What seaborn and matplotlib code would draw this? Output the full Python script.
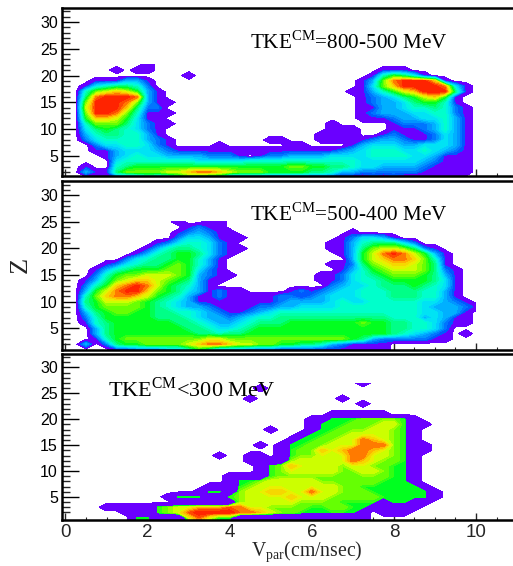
import matplotlib
matplotlib.use('Agg')
import matplotlib.pyplot as plt
import numpy as np
import seaborn as sns

# Bin centres: V_par every 0.25 cm/nsec, Z every 1. Each row is one Z bin, each digit
# is the colour step for one V_par bin (0 = empty, c = top step).
v_par = [i * 0.25 for i in range(41)]

# rows run from Z=22 down to Z=1
z_top = 22
counts_800_500 = [
    "00000 00010",
    "00000 10110 00000 00000 00000 00000 01110",
    "00000 00000 00100 00000 00000 00000 15764 10000",
    "00011 13310 00000 00000 00000 00001 38bcc ca100",
    "00145 66520 00000 00000 00000 00001 48acc ccb41",
    "00589 a9731 00000 00000 00000 00011 3579a ccc61",
    "006bc ccb31 00000 00000 00000 00001 23467 9a710",
    "008cc cb831 10000 00000 00000 00001 23346 77510",
    "009cc ca622 00000 00000 00000 00001 13345 56521",
    "008cc b8511 10000 00000 00000 00001 23334 45521",
    "007aa 97411 00000 00000 00000 00001 11233 44531",
    "00588 86421 10000 00000 00000 01000 00122 23531",
    "00467 65421 00000 00000 00000 01110 00111 23531",
    "00356 65531 00000 00000 00000 11110 01211 12431",
    "00245 55532 10000 00000 11000 11111 23321 12431",
    "00024 45542 10000 10000 00110 00013 44433 44431",
    "00011 34443 21111 11111 11111 11234 55544 54321",
    "00001 34544 33332 22101 22333 34444 55554 43111",
    "00000 45555 55544 44455 55555 55554 44444 32111",
    "00100 56777 77777 77777 77887 76654 43333 21111",
    "00311 68888 99abb a9888 77776 65332 22222 11111",
    "00000 21243 35765 51111 11111 11000 10100 00000",
]

# rows run from Z=25 down to Z=1
z_mid = 25
counts_500_400 = [
    "00000 00000 01001 10000",
    "00000 00000 00121 10000",
    "00000 00000 01232 11000 00000 00010",
    "00000 00000 02443 11100 00000 00124 43100",
    "00000 00001 24554 21000 00000 01135 66642",
    "00000 00013 56654 21100 00000 01136 89986 21000",
    "00000 00135 67764 21000 00000 00137 9bcb9 73100",
    "00000 02456 67753 10000 00000 00037 9abba 85100",
    "00001 24566 78753 10000 00000 01126 89aa9 86100",
    "00013 56777 88742 10000 00000 00135 78999 86210",
    "00025 78899 98732 11000 00000 11245 67888 76310",
    "00136 89aa9 87631 10000 00000 11245 56777 76410",
    "00257 abcb9 76531 00000 00000 02344 56667 65410",
    "00379 bcca8 76431 21100 00121 23445 55666 55310",
    "0058a bba97 65311 21111 12212 34445 55666 55310",
    "00679 99876 54311 11111 12333 34544 55555 44321",
    "00578 88876 54332 11112 23344 44555 55555 43332 1",
    "00367 88776 65543 21123 45555 55555 55555 44331",
    "00257 77776 66543 32345 56666 66666 66555 34311",
    "00156 77777 76654 33456 66777 77778 77665 54211",
    "00036 77777 77665 44567 77777 77777 77665 54200",
    "00036 77777 77766 56677 77777 77777 77654 32101",
    "00015 78888 88889 98888 88888 88876 32222 21100",
    "00302 67788 889ab ba998 87766 53211 11000",
    "00000 11222 33575 33322 21111 11111 11000",
]

# rows run from Z=27 down to Z=0
z_low = 27
counts_below_300 = [
    "00000 00000 00000 00000 00000 00001",
    "00000 00000 00000 00001",
    "00000",
    "00000 00000 00000 00010 00000 00100",
    "00000 00000 00000 00000 00000 00001",
    "00000",
    "00000 00000 00000 00000 00000 01111 11000",
    "00000 00000 00000 00000 00001 17778 88871",
    "00000 00000 00000 00000 00001 77788 89971 1",
    "00000 00000 00000 00000 10001 77888 99871",
    "00000 00000 00000 00000 00017 78899 99871",
    "00000 00000 00000 00000 00177 8899b a9871",
    "00000 00000 00000 00001 01778 8999b bb871 1",
    "00000 00000 00000 00000 01788 a9abb a9871 1",
    "00000 00000 00000 10011 01788 999bb 99871",
    "00000 00000 00000 00011 11899 999ba 98871",
    "00000 00000 00000 00001 78a99 99899 88771",
    "00000 00000 00000 00001 78999 99889 98771",
    "00000 00000 00000 01111 78888 88888 88771",
    "00000 00000 00000 01778 99999 88888 87771",
    "00000 00000 00001 11789 99999 99887 77777 1",
    "00000 00000 00017 71899 aa99b 99888 77777 71",
    "00000 00000 17771 17899 99a99 98888 87777 71",
    "00000 00000 01111 11899 99988 88777 71771 1",
    "00001 11117 899aa abb99 88887 78877 11111",
    "00000 01017 89bcc ccbba 98877 77771 01110",
    "00000 00771 119b9 77111 11111 11111",
    "00000 00771 119b9 77111 11111 11111",
]

y_ticks = [5, 10, 15, 20, 25, 30]
x_ticks = [0, 2, 4, 6, 8, 10]
labels = ["TKE$^{\\mathrm{CM}}$=800-500 MeV", "TKE$^{\\mathrm{CM}}$=500-400 MeV", "TKE$^{\\mathrm{CM}}$<300 MeV"]

palette = ["#6a00ff", "#0058ff", "#009cff", "#00d8ff", "#00ffd8", "#00ff90",
           "#00ff20", "#70ff00", "#e0ff00", "#ffc800", "#ff5000", "#ff0000"]


def to_grid(rows):
    out = []
    for r in rows:
        out.append([int(c, 16) for c in r.replace(" ", "").ljust(len(v_par), "0")])
    return np.array(out, dtype=float)


sns.set_theme(style="ticks", rc={"axes.linewidth": 1.6, "xtick.direction": "in", "ytick.direction": "in"})
plt.rcParams['font.family'] = ['Liberation Sans', 'DejaVu Sans']
plt.rcParams['mathtext.fontset'] = 'custom'
plt.rcParams['mathtext.rm'] = 'Liberation Serif'

W, H = 513.0, 566.0
fig = plt.figure(figsize=(W / 100, H / 100), dpi=100)

boxes = [(8, 176), (181, 350), (354, 520)]
ylims = [(1.25, 32.6), (0.9, 32.7), (0.55, 32.6)]
all_rows = [counts_800_500, counts_500_400, counts_below_300]
tops = [z_top, z_mid, z_low]
text_pos = [(250, 42.5), (250, 214.5), (108, 389.5)]
text_size = [15.2, 15.2, 16]

for n in range(3):
    ax = fig.add_axes([62 / W, 1 - boxes[n][1] / H, (W - 60) / W, (boxes[n][1] - boxes[n][0]) / H])
    grid = to_grid(all_rows[n])
    zs = [tops[n] - i for i in range(len(all_rows[n]))]
    if n < 2:
        levels = [0.3] + [1.3 + 0.5 * k for k in range(24)]
        colors = [palette[0]] + sns.blend_palette(palette[1:], n_colors=23)
    else:
        # the low TKE panel jumps from the purple step straight to green
        levels = [0.3] + [6.5 + 0.5 * k for k in range(13)]
        colors = [palette[0]] + sns.blend_palette(palette[6:], n_colors=12)
    ax.contourf(v_par, zs, grid, levels=levels, colors=colors)
    ax.set_xlim(-0.085, 10.95)
    ax.set_ylim(*ylims[n])
    ax.set_yticks(y_ticks)
    ax.set_yticks(range(2, 33), minor=True)
    ax.set_xticks(x_ticks)
    ax.set_xticks(np.arange(0, 11, 0.5), minor=True)
    ax.tick_params(axis='y', which='major', length=12, width=1.0, labelsize=11.5, pad=3, colors='black')
    ax.tick_params(axis='y', which='minor', length=6, width=1.0)
    ax.tick_params(axis='x', which='major', length=5, width=1.0, labelsize=13.5, pad=3)
    ax.tick_params(axis='x', which='minor', length=2.5, width=0.8)
    if n < 2:
        ax.tick_params(axis='x', labelbottom=False)
    sns.despine(ax=ax, top=False, right=True)
    for s in ['top', 'left', 'bottom']:
        ax.spines[s].set_linewidth(1.8)
        ax.spines[s].set_color('black')
    fig.text(text_pos[n][0] / W, 1 - text_pos[n][1] / H, labels[n], family='Liberation Serif',
             fontsize=text_size[n], color='black', va='center', ha='left')

fig.text(21 / W, 1 - 265 / H, "Z", family='Liberation Serif', fontsize=19, rotation=90, va='center', ha='center')
fig.text(307 / W, 1 - 552 / H, "V$_{\\mathrm{par}}$(cm/nsec)", family='Liberation Serif', fontsize=14.2,
         va='center', ha='center')

fig.savefig("out.png", dpi=100, facecolor='white')
